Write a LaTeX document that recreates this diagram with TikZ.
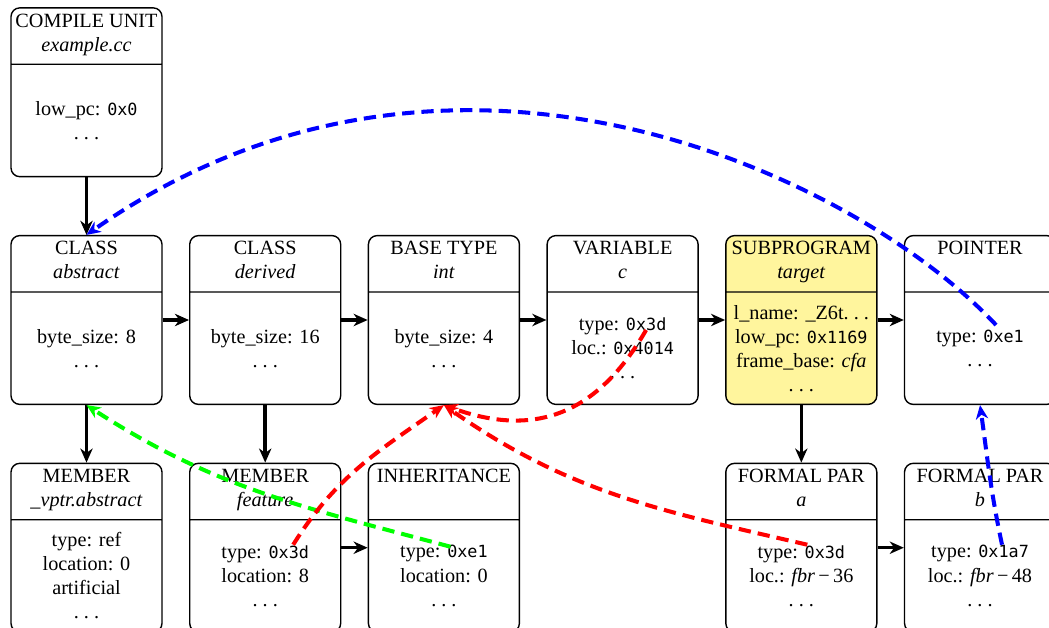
\documentclass[tikz,border=0pt]{standalone}
\usepackage{fontspec}
\setmainfont{Liberation Serif}
\setmonofont[Scale=0.83]{DejaVu Sans Mono}
\usetikzlibrary{shapes.multipart, arrows.meta, positioning, calc}
\definecolor{DIE_SEL}{HTML}{FFF59D}
\definecolor{REF_BLUE}{HTML}{0000FF}
\definecolor{REF_RED}{HTML}{FF0000}
\definecolor{REF_GREEN}{HTML}{00FF00}
\newcommand{\more}{.\kern0.25em.\kern0.25em.}
\newcommand{\dieparts}[3]{%
  \parbox[c][1.10cm][c]{3.02cm}{\centering #1\\ \strut #2}%
  \nodepart{two}%
  \parbox[c][2.22cm][c]{3.02cm}{\centering #3}}
\tikzset{
  die/.style={
    rectangle split, rectangle split parts=2,
    draw=black, fill=white, thick, rounded corners=5pt,
    inner sep=0pt, font=\fontsize{11.5}{13.66}\selectfont},
  picked/.style={die, fill=DIE_SEL},
  nextdie/.style={-{Stealth[length=8pt,width=7pt,inset=2.5pt]}, line width=2pt},
  typeref/.style={-{Stealth[length=8pt,width=7pt,inset=2.5pt]}, line width=2.3pt,
    dash pattern=on 7pt off 4pt},
}

\begin{document}
\begin{tikzpicture}[node distance=1.15cm and 0.526cm]

  \useasboundingbox (-1.73,6.4) rectangle (19.25,-6.16);

  \node[die] (abs) at (0,0)
    {\dieparts{CLASS}{\textit{abstract}}{byte\_size: 8\\ \more}};

  \node[die, above=of abs] (cu)
    {\dieparts{COMPILE UNIT}{\textit{example.cc}}{low\_pc: \texttt{0x0}\\ \more}};

  \node[die, right=of abs] (der)
    {\dieparts{CLASS}{\textit{derived}}{byte\_size: 16\\ \more}};

  \node[die, right=of der] (base)
    {\dieparts{BASE TYPE}{\textit{int}}{byte\_size: 4\\ \more}};

  \node[die, right=of base] (var)
    {\dieparts{VARIABLE}{\textit{c}}{type: \texttt{0x3d}\\ loc.: \texttt{0x4014}\\ \more}};

  \node[picked, right=of var] (sub)
    {\dieparts{SUBPROGRAM}{\textit{target}}{l\_name: \_Z6t\more\\ low\_pc: \texttt{0x1169}\\ frame\_base: \textit{cfa}\\ \more}};

  \node[die, right=of sub] (ptr)
    {\dieparts{POINTER}{}{type: \texttt{0xe1}\\ \more}};

  \node[die, below=of abs] (vptr)
    {\dieparts{MEMBER}{\textit{\_vptr.abstract}}{type: ref\\ location: 0\\ artificial\\ \more}};

  \node[die, below=of der] (feat)
    {\dieparts{MEMBER}{\textit{feature}}{type: \texttt{0x3d}\\ location: 8\\ \more}};

  \node[die, below=of base] (inh)
    {\dieparts{INHERITANCE}{}{type: \texttt{0xe1}\\ location: 0\\ \more}};

  \node[die, below=of sub] (fpa)
    {\dieparts{FORMAL PAR}{\textit{a}}{type: \texttt{0x3d}\\ loc.: \textit{fbr}\,−\,36\\ \more}};

  \node[die, below=of ptr] (fpb)
    {\dieparts{FORMAL PAR}{\textit{b}}{type: \texttt{0x1a7}\\ loc.: \textit{fbr}\,−\,48\\ \more}};

  % where the type references leave the boxes
  \coordinate (ptr-ty)  at ($(ptr.center)+(0.32,-0.1)$);
  \coordinate (var-ty)  at ($(var.center)+(0.47,-0.2)$);
  \coordinate (feat-ty) at ($(feat.center)+(0.56,0.06)$);
  \coordinate (inh-ty)  at ($(inh.center)+(0.13,0.02)$);
  \coordinate (fpa-ty)  at ($(fpa.center)+(0.12,0.06)$);
  \coordinate (fpb-ty)  at ($(fpb.center)+(0.44,0.06)$);

  \draw[nextdie] (cu)   -- (abs);
  \draw[nextdie] (abs)  -- (vptr);
  \draw[nextdie] (der)  -- (feat);
  \draw[nextdie] (sub)  -- (fpa);
  \draw[nextdie] (abs)  -- (der);
  \draw[nextdie] (der)  -- (base);
  \draw[nextdie] (base) -- (var);
  \draw[nextdie] (var)  -- (sub);
  \draw[nextdie] (sub)  -- (ptr);
  \draw[nextdie] (feat) -- (inh);
  \draw[nextdie] (fpa)  -- (fpb);

  \draw[typeref, REF_BLUE]  (ptr-ty)  to[out=133, in=35, out looseness=0.56, in looseness=1.25] (abs.north);
  \draw[typeref, REF_BLUE]  (fpb-ty)  to[out=102, in=-82] (ptr.south);
  \draw[typeref, REF_GREEN] (inh-ty)  to[out=165, in=-33] (abs.south);
  \draw[typeref, REF_RED]   (feat-ty) to[out=58, in=-145] (base.south);
  \draw[typeref, REF_RED]   (var-ty)  to[out=-120, in=-20, looseness=1.15] (base.south);
  \draw[typeref, REF_RED]   (fpa-ty)  to[out=167, in=-35] (base.south);

\end{tikzpicture}
\end{document}
